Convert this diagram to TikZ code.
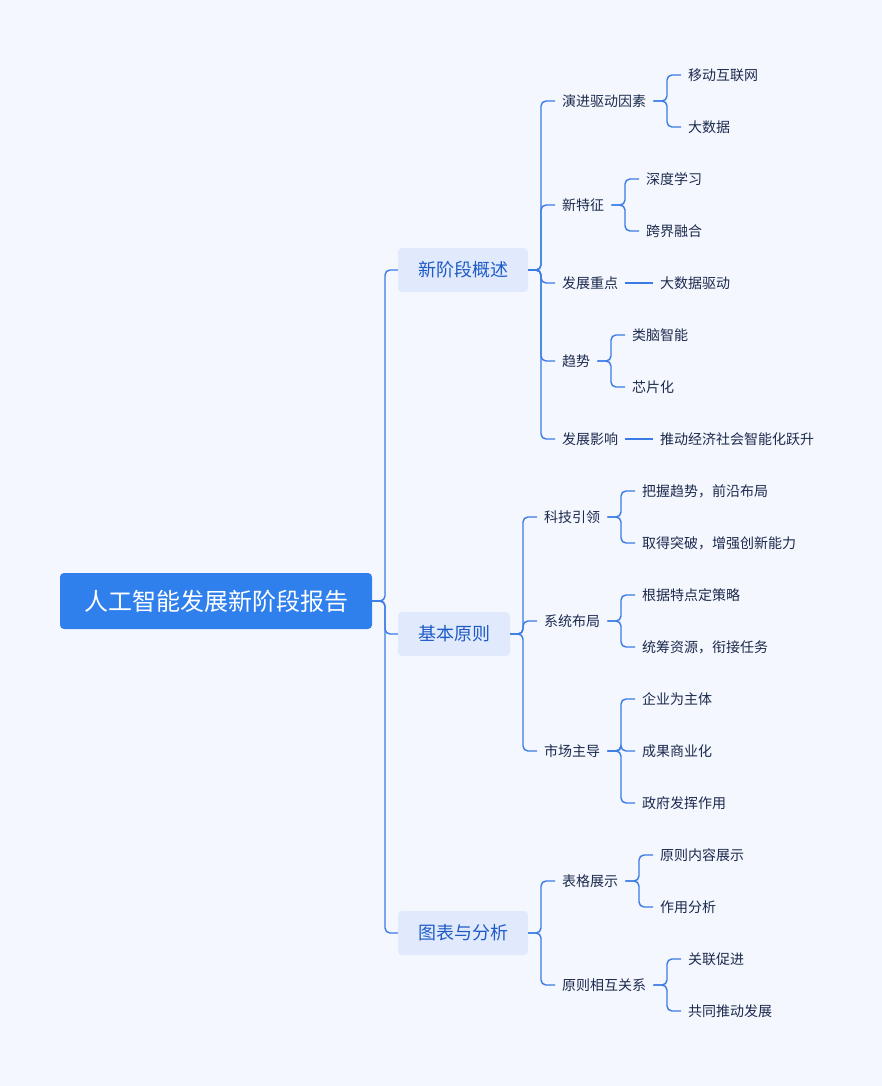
\documentclass[tikz,border=0pt]{standalone}
\usepackage{fontspec}
\setmainfont{Noto Sans CJK SC}
\definecolor{bg}{HTML}{F5F7FE}
\definecolor{ln}{HTML}{3A7BE6}
\definecolor{rootc}{HTML}{2F80ED}
\definecolor{boxc}{HTML}{E1EAFD}
\definecolor{txt1}{HTML}{1E5BC6}
\definecolor{txt}{HTML}{1B2A4E}
\tikzset{
 rootn/.style={fill=rootc,rounded corners=4pt,text=white,font=\fontsize{24}{28}\selectfont,minimum width=312pt,minimum height=56pt,inner sep=0pt},
 l1/.style={fill=boxc,rounded corners=4pt,text=txt1,font=\fontsize{18}{21}\selectfont,minimum height=44pt,inner sep=0pt},
 l2/.style={text=txt,font=\fontsize{14}{17}\selectfont,anchor=west,inner xsep=7pt,inner ysep=2pt},
 conn/.style={draw=ln,line width=1.4pt,rounded corners=5pt}
}
\begin{document}
\begin{tikzpicture}[x=1pt,y=-1pt]
\fill[bg] (0,0) rectangle (882,1086);
\node[rootn] (root) at (216,601) {人工智能发展新阶段报告};
\node[l1,minimum width=130pt] (a) at (463,270) {新阶段概述};
\node[l1,minimum width=112pt] (b) at (454,634) {基本原则};
\node[l1,minimum width=130pt] (c) at (463,933) {图表与分析};
\foreach \n/\y in {a/270,b/634,c/933}{\draw[conn] (root.east) -- (385,601) |- (\n.west);}
% group a
\node[l2] (a1) at (555,101) {演进驱动因素};
\node[l2] (a2) at (555,205) {新特征};
\node[l2] (a3) at (555,283) {发展重点};
\node[l2] (a4) at (555,361) {趋势};
\node[l2] (a5) at (555,439) {发展影响};
\foreach \n in {a1,a2,a3,a4,a5}{\draw[conn] (a.east) -- (541,270) |- (\n.west);}
\node[l2] (a11) at (681,75) {移动互联网};
\node[l2] (a12) at (681,127) {大数据};
\foreach \n in {a11,a12}{\draw[conn] (a1.east) -- (667,101) |- (\n.west);}
\node[l2] (a21) at (639,179) {深度学习};
\node[l2] (a22) at (639,231) {跨界融合};
\foreach \n in {a21,a22}{\draw[conn] (a2.east) -- (625,205) |- (\n.west);}
\node[l2] (a31) at (653,283) {大数据驱动};
\draw[conn] (a3.east) -- (a31.west);
\node[l2] (a41) at (625,335) {类脑智能};
\node[l2] (a42) at (625,387) {芯片化};
\foreach \n in {a41,a42}{\draw[conn] (a4.east) -- (611,361) |- (\n.west);}
\node[l2] (a51) at (653,439) {推动经济社会智能化跃升};
\draw[conn] (a5.east) -- (a51.west);
% group b
\node[l2] (b1) at (537,517) {科技引领};
\node[l2] (b2) at (537,621) {系统布局};
\node[l2] (b3) at (537,751) {市场主导};
\foreach \n in {b1,b2,b3}{\draw[conn] (b.east) -- (523,634) |- (\n.west);}
\node[l2] (b11) at (635,491) {把握趋势，前沿布局};
\node[l2] (b12) at (635,543) {取得突破，增强创新能力};
\foreach \n in {b11,b12}{\draw[conn] (b1.east) -- (621,517) |- (\n.west);}
\node[l2] (b21) at (635,595) {根据特点定策略};
\node[l2] (b22) at (635,647) {统筹资源，衔接任务};
\foreach \n in {b21,b22}{\draw[conn] (b2.east) -- (621,621) |- (\n.west);}
\node[l2] (b31) at (635,699) {企业为主体};
\node[l2] (b32) at (635,751) {成果商业化};
\node[l2] (b33) at (635,803) {政府发挥作用};
\foreach \n in {b31,b32,b33}{\draw[conn] (b3.east) -- (621,751) |- (\n.west);}
% group c
\node[l2] (c1) at (555,881) {表格展示};
\node[l2] (c2) at (555,985) {原则相互关系};
\foreach \n in {c1,c2}{\draw[conn] (c.east) -- (541,933) |- (\n.west);}
\node[l2] (c11) at (653,855) {原则内容展示};
\node[l2] (c12) at (653,907) {作用分析};
\foreach \n in {c11,c12}{\draw[conn] (c1.east) -- (639,881) |- (\n.west);}
\node[l2] (c21) at (681,959) {关联促进};
\node[l2] (c22) at (681,1011) {共同推动发展};
\foreach \n in {c21,c22}{\draw[conn] (c2.east) -- (667,985) |- (\n.west);}
\end{tikzpicture}
\end{document}
